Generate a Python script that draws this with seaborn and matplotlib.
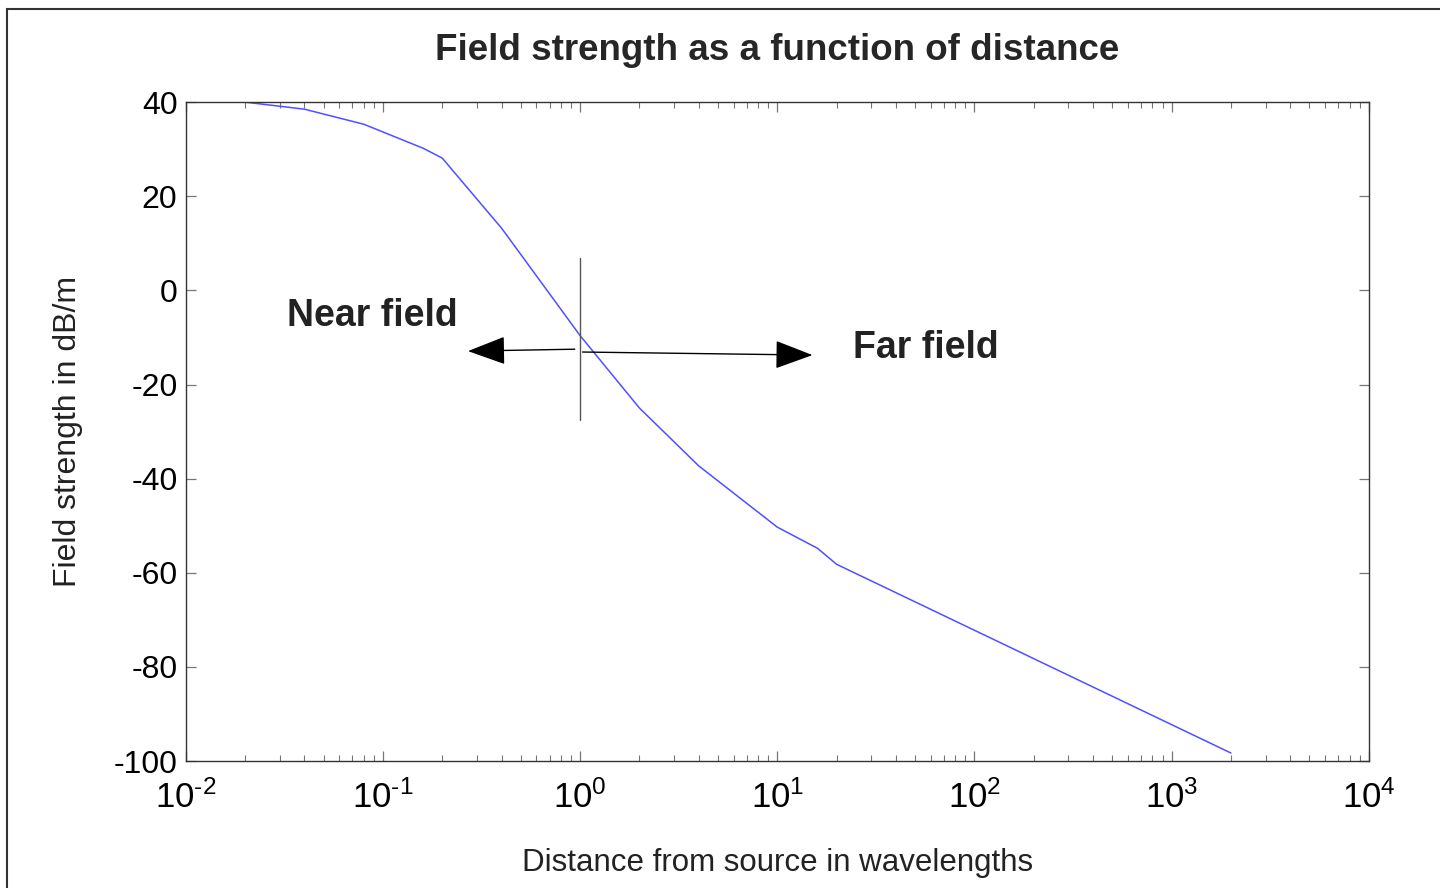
import numpy as np
import pandas as pd
import seaborn as sns
import matplotlib.pyplot as plt
from matplotlib.patches import Rectangle
from matplotlib.ticker import LogLocator, FixedLocator, NullFormatter, FuncFormatter


# field strength curve
distance = [0.02, 0.04, 0.08, 0.16, 0.2, 0.4, 1.0, 2.0, 4.0, 10.0, 16.0, 20.0, 2000.0]
field_db = [40.0, 38.5, 35.3, 30.2, 28.1, 13.2, -9.6, -25.0, -37.3, -50.3, -54.8, -58.2, -98.3]

y_ticks = [-100, -80, -60, -40, -20, 0, 20, 40]

df = pd.DataFrame({'Distance': distance, 'Field': field_db})

sns.set_style('ticks')
plt.rcParams['font.family'] = ['Liberation Sans', 'DejaVu Sans']
plt.rcParams['mathtext.fontset'] = 'custom'
plt.rcParams['mathtext.rm'] = 'Liberation Sans'
plt.rcParams['mathtext.it'] = 'Liberation Sans'
plt.rcParams['axes.unicode_minus'] = False

fig = plt.figure(figsize=(14.4, 8.88), dpi=100)
ax = fig.add_axes([0.129, 0.143, 0.8215, 0.742])

sns.lineplot(data=df, x='Distance', y='Field', ax=ax, color='#5050ff', linewidth=1.1, sort=False)

ax.set_xscale('log')
ax.set_xlim(1e-2, 1e4)
ax.set_ylim(-100, 40)
ax.xaxis.set_major_locator(LogLocator(base=10, numticks=10))
ax.xaxis.set_major_formatter(FuncFormatter(lambda v, p: r'$10^{\text{%d}}$' % round(np.log10(v))))
ax.xaxis.set_minor_locator(LogLocator(base=10, subs=np.arange(2, 10), numticks=100))
ax.xaxis.set_minor_formatter(NullFormatter())
ax.yaxis.set_major_locator(FixedLocator(y_ticks))

for side in ['top', 'right', 'left', 'bottom']:
    ax.spines[side].set_visible(True)
    ax.spines[side].set_color('#333333')
    ax.spines[side].set_linewidth(1.0)

ax.tick_params(which='both', direction='in', top=True, right=True, colors='#777777', labelcolor='black')
ax.tick_params(which='major', length=7, width=0.9, labelsize=23)
ax.tick_params(which='minor', length=4, width=0.8)
ax.tick_params(axis='x', which='major', pad=14, labelsize=25)
ax.tick_params(axis='y', which='major', pad=6)

ax.set_title('Field strength as a function of distance', fontsize=26.5, fontweight='bold', pad=30)
ax.set_xlabel('Distance from source in wavelengths', fontsize=22.5, labelpad=24, color='#222222')
ax.set_ylabel('Field strength in dB/m', fontsize=23, labelpad=22, color='#222222')

# near / far field boundary
ax.plot([1.0, 1.0], [6.9, -27.6], color='#555555', linewidth=1.0)
ax.annotate('', xy=(0.27, -12.9), xytext=(0.94, -12.5),
            arrowprops=dict(arrowstyle='-|>,head_length=2.4,head_width=0.9', color='black',
                            linewidth=1.0, shrinkA=0, shrinkB=0))
ax.annotate('', xy=(15.1, -13.75), xytext=(1.03, -13.1),
            arrowprops=dict(arrowstyle='-|>,head_length=2.4,head_width=0.9', color='black',
                            linewidth=1.0, shrinkA=0, shrinkB=0))
ax.text(0.088, -5.5, 'Near field', fontsize=27, fontweight='bold', ha='center', va='center', color='#222222')
ax.text(56.6, -12.3, 'Far field', fontsize=27, fontweight='bold', ha='center', va='center', color='#222222')

# outer frame around the figure
fig.patches.append(Rectangle((7 / 1440, -0.1), 1.2, 1.1 - 9 / 888, transform=fig.transFigure,
                             fill=False, edgecolor='#333333', linewidth=1.5, clip_on=False))

fig.savefig('out.png', dpi=100)
